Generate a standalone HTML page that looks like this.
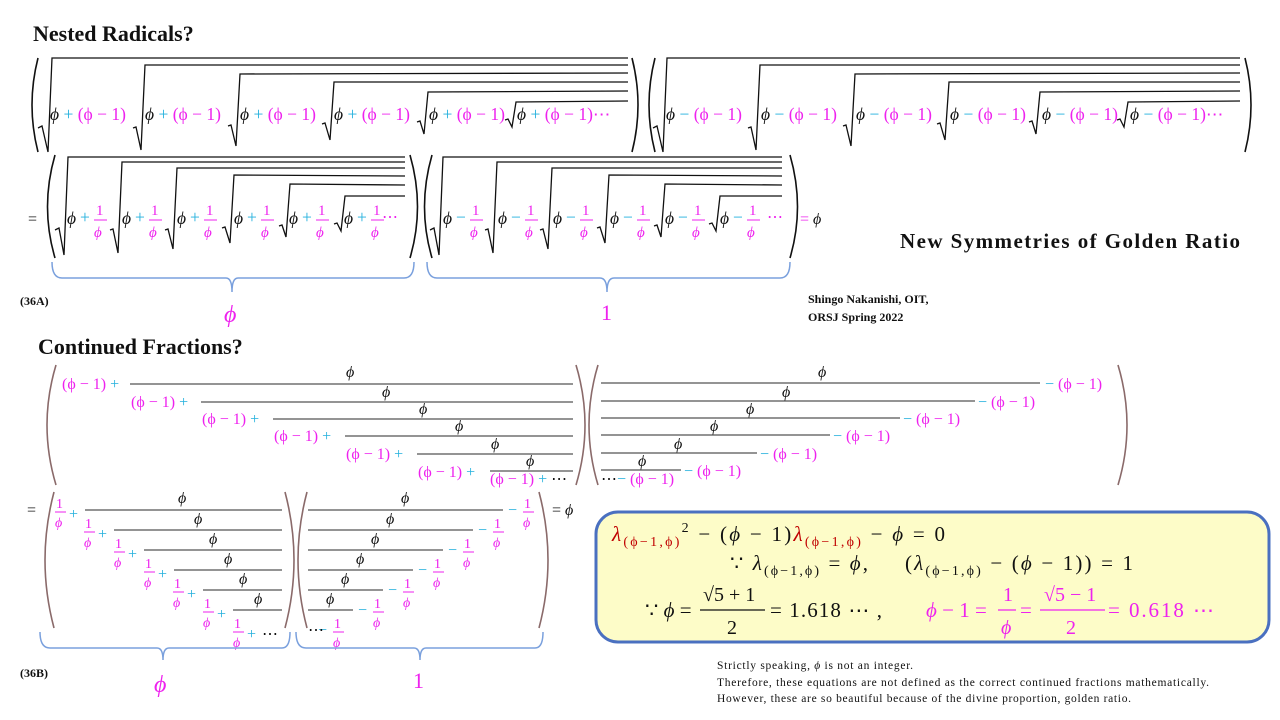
<!DOCTYPE html>
<html><head><meta charset="utf-8"><style>
html,body{margin:0;padding:0;background:#fff;}
svg{display:block;}
text{font-family:"Liberation Serif",serif;font-size:16px;}
.m{fill:#ee22ee}.c{fill:#22b0dd}.k{fill:#111}.i{font-style:italic}
.r{fill:none;stroke:#111;stroke-width:1.3}
.p{fill:none;stroke:#111;stroke-width:1.6}
.bp{fill:none;stroke:#8a6a6a;stroke-width:1.6}
.fl{stroke:#555;stroke-width:1.2}
.br{fill:none;stroke:#7aa0dd;stroke-width:1.5}
.t{font-weight:bold;fill:#111}
.big{font-size:17.5px}
</style></head><body>
<svg width="1280" height="720" viewBox="0 0 1280 720" xmlns="http://www.w3.org/2000/svg">
<text x="33" y="41" class="t" style="font-size:22px">Nested Radicals?</text>
<text x="900" y="248" class="t" style="font-size:21px" textLength="340">New Symmetries of Golden Ratio</text>
<text x="20" y="305" class="t" style="font-size:12px">(36A)</text>
<text x="808" y="303" class="t" style="font-size:12px">Shingo Nakanishi, OIT,</text>
<text x="808" y="321" class="t" style="font-size:12px">ORSJ Spring 2022</text>
<text x="38" y="354" class="t" style="font-size:22px">Continued Fractions?</text>
<text x="20" y="677" class="t" style="font-size:12px">(36B)</text>

<!-- Top row left -->
<path class="p" d="M38,58 Q26,105 38,152"/>
<path class="p" d="M632,58 Q644,105 632,152"/>
<path class="r" d="M38,128 l4,-2 l6,26 l4,-94 L628,58"/>
<path class="r" d="M133,128 l3,-1 l5,23 l4,-85 L628,65"/>
<path class="r" d="M228,126 l3,-1 l5,21 l4,-72 L628,73"/>
<path class="r" d="M322,124 l3,-1 l5,17 l4,-58 L628,82"/>
<path class="r" d="M417,122 l3,-1 l4,13 l4,-42 L628,91"/>
<path class="r" d="M505,120 l3,-1 l4,8 l4,-25 L628,101"/>
<text x="50" y="120" class="big"><tspan class="k i">ϕ</tspan><tspan class="c"> + </tspan><tspan class="m">(ϕ − 1)</tspan></text>
<text x="145" y="120" class="big"><tspan class="k i">ϕ</tspan><tspan class="c"> + </tspan><tspan class="m">(ϕ − 1)</tspan></text>
<text x="240" y="120" class="big"><tspan class="k i">ϕ</tspan><tspan class="c"> + </tspan><tspan class="m">(ϕ − 1)</tspan></text>
<text x="334" y="120" class="big"><tspan class="k i">ϕ</tspan><tspan class="c"> + </tspan><tspan class="m">(ϕ − 1)</tspan></text>
<text x="429" y="120" class="big"><tspan class="k i">ϕ</tspan><tspan class="c"> + </tspan><tspan class="m">(ϕ − 1)</tspan></text>
<text x="517" y="120" class="big"><tspan class="k i">ϕ</tspan><tspan class="c"> + </tspan><tspan class="m">(ϕ − 1)⋯</tspan></text>

<!-- Top row right -->
<path class="p" d="M655,58 Q643,105 655,152"/>
<path class="p" d="M1245,58 Q1257,105 1245,152"/>
<path class="r" d="M653,128 l4,-2 l6,26 l4,-94 L1240,58"/>
<path class="r" d="M748,128 l3,-1 l5,23 l4,-85 L1240,65"/>
<path class="r" d="M843,126 l3,-1 l5,21 l4,-72 L1240,73"/>
<path class="r" d="M937,124 l3,-1 l5,17 l4,-58 L1240,82"/>
<path class="r" d="M1029,122 l3,-1 l4,13 l4,-42 L1240,91"/>
<path class="r" d="M1117,120 l3,-1 l4,8 l4,-25 L1240,101"/>
<text x="666" y="120" class="big"><tspan class="k i">ϕ</tspan><tspan class="c"> − </tspan><tspan class="m">(ϕ − 1)</tspan></text>
<text x="761" y="120" class="big"><tspan class="k i">ϕ</tspan><tspan class="c"> − </tspan><tspan class="m">(ϕ − 1)</tspan></text>
<text x="856" y="120" class="big"><tspan class="k i">ϕ</tspan><tspan class="c"> − </tspan><tspan class="m">(ϕ − 1)</tspan></text>
<text x="950" y="120" class="big"><tspan class="k i">ϕ</tspan><tspan class="c"> − </tspan><tspan class="m">(ϕ − 1)</tspan></text>
<text x="1042" y="120" class="big"><tspan class="k i">ϕ</tspan><tspan class="c"> − </tspan><tspan class="m">(ϕ − 1)</tspan></text>
<text x="1130" y="120" class="big"><tspan class="k i">ϕ</tspan><tspan class="c"> − </tspan><tspan class="m">(ϕ − 1)⋯</tspan></text>

<!-- Row 2 -->
<text x="28" y="224" class="k">=</text>
<path class="p" d="M55,155 Q40,207 55,258"/>
<path class="p" d="M410,155 Q425,207 410,258"/>
<path class="r" d="M55,230 l4,-2 l5,27 l4,-98 L405,157"/>
<path class="r" d="M110,230 l3,-1 l5,24 l4,-91 L405,162"/>
<path class="r" d="M165,230 l3,-1 l5,20 l4,-81 L405,168"/>
<path class="r" d="M222,228 l3,-1 l5,16 l4,-68 L405,176"/>
<path class="r" d="M279,226 l3,-1 l4,12 l4,-53 L405,185"/>
<path class="r" d="M334,224 l3,-1 l4,8 l4,-35 L405,196"/>
<g id="tp">
<text x="67" y="224" class="k i big">ϕ</text><text x="80" y="223" class="c big">+</text><text x="96" y="215" class="m" style="font-size:15px">1</text><line x1="94" y1="220" x2="107" y2="220" stroke="#ee22ee"/><text x="94" y="237" class="m i" style="font-size:15px">ϕ</text>
</g>
<use href="#tp" x="55"/><use href="#tp" x="110"/><use href="#tp" x="167"/><use href="#tp" x="222"/><use href="#tp" x="277"/>
<text x="382" y="222" class="m">⋯</text>

<path class="p" d="M432,155 Q417,207 432,258"/>
<path class="p" d="M790,155 Q805,207 790,258"/>
<path class="r" d="M430,230 l4,-2 l5,27 l4,-98 L782,157"/>
<path class="r" d="M485,230 l3,-1 l5,24 l4,-91 L782,162"/>
<path class="r" d="M540,230 l3,-1 l5,20 l4,-81 L782,168"/>
<path class="r" d="M597,228 l3,-1 l5,16 l4,-68 L782,176"/>
<path class="r" d="M654,226 l3,-1 l4,12 l4,-53 L782,185"/>
<path class="r" d="M709,224 l3,-1 l4,8 l4,-35 L782,196"/>
<g id="tm">
<text x="443" y="224" class="k i big">ϕ</text><text x="456" y="223" class="c big">−</text><text x="472" y="215" class="m" style="font-size:15px">1</text><line x1="470" y1="220" x2="483" y2="220" stroke="#ee22ee"/><text x="470" y="237" class="m i" style="font-size:15px">ϕ</text>
</g>
<use href="#tm" x="55"/><use href="#tm" x="110"/><use href="#tm" x="167"/><use href="#tm" x="222"/><use href="#tm" x="277"/>
<text x="767" y="222" class="m">⋯</text>
<text x="800" y="224"><tspan class="m">= </tspan><tspan class="k i">ϕ</tspan></text>

<!-- braces top -->
<path class="br" d="M52,262 Q52,278 62,278 L226,278 Q232,278 232,292 Q232,278 238,278 L404,278 Q414,278 414,262"/>
<path class="br" d="M427,262 Q427,278 437,278 L600,278 Q607,278 607,292 Q607,278 614,278 L780,278 Q790,278 790,262"/>
<text x="224" y="322" class="m i" style="font-size:24px">ϕ</text>
<text x="601" y="320" class="m" style="font-size:22px">1</text>

<!-- CF top left -->
<path class="bp" d="M56,365 Q38,425 56,485"/>
<path class="bp" d="M576,365 Q594,425 576,485"/>
<line class="fl" x1="130" y1="384" x2="573" y2="384"/><text x="346" y="377" class="k i">ϕ</text>
<text x="62" y="389"><tspan class="m">(ϕ − 1)</tspan><tspan class="c"> +</tspan></text>
<line class="fl" x1="201" y1="402" x2="573" y2="402"/><text x="382" y="397" class="k i">ϕ</text>
<text x="131" y="407"><tspan class="m">(ϕ − 1)</tspan><tspan class="c"> +</tspan></text>
<line class="fl" x1="273" y1="419" x2="573" y2="419"/><text x="419" y="414" class="k i">ϕ</text>
<text x="202" y="424"><tspan class="m">(ϕ − 1)</tspan><tspan class="c"> +</tspan></text>
<line class="fl" x1="345" y1="436" x2="573" y2="436"/><text x="455" y="431" class="k i">ϕ</text>
<text x="274" y="441"><tspan class="m">(ϕ − 1)</tspan><tspan class="c"> +</tspan></text>
<line class="fl" x1="417" y1="454" x2="573" y2="454"/><text x="491" y="449" class="k i">ϕ</text>
<text x="346" y="459"><tspan class="m">(ϕ − 1)</tspan><tspan class="c"> +</tspan></text>
<line class="fl" x1="490" y1="471" x2="573" y2="471"/><text x="526" y="466" class="k i">ϕ</text>
<text x="418" y="477"><tspan class="m">(ϕ − 1)</tspan><tspan class="c"> +</tspan></text>
<text x="490" y="484"><tspan class="m">(ϕ − 1)</tspan><tspan class="c"> +</tspan><tspan class="k"> ⋯</tspan></text>

<!-- CF top right -->
<path class="bp" d="M598,365 Q580,425 598,485"/>
<path class="bp" d="M1118,365 Q1136,425 1118,485"/>
<line class="fl" x1="601" y1="383" x2="1040" y2="383"/><text x="818" y="377" class="k i">ϕ</text>
<text x="1045" y="389"><tspan class="c">− </tspan><tspan class="m">(ϕ − 1)</tspan></text>
<line class="fl" x1="601" y1="401" x2="975" y2="401"/><text x="782" y="397" class="k i">ϕ</text>
<text x="978" y="407"><tspan class="c">− </tspan><tspan class="m">(ϕ − 1)</tspan></text>
<line class="fl" x1="601" y1="418" x2="900" y2="418"/><text x="746" y="414" class="k i">ϕ</text>
<text x="903" y="424"><tspan class="c">− </tspan><tspan class="m">(ϕ − 1)</tspan></text>
<line class="fl" x1="601" y1="435" x2="830" y2="435"/><text x="710" y="431" class="k i">ϕ</text>
<text x="833" y="441"><tspan class="c">− </tspan><tspan class="m">(ϕ − 1)</tspan></text>
<line class="fl" x1="601" y1="453" x2="757" y2="453"/><text x="674" y="449" class="k i">ϕ</text>
<text x="760" y="459"><tspan class="c">− </tspan><tspan class="m">(ϕ − 1)</tspan></text>
<line class="fl" x1="601" y1="470" x2="681" y2="470"/><text x="638" y="466" class="k i">ϕ</text>
<text x="684" y="476"><tspan class="c">− </tspan><tspan class="m">(ϕ − 1)</tspan></text>
<text x="601" y="484"><tspan class="k">⋯</tspan><tspan class="c">− </tspan><tspan class="m">(ϕ − 1)</tspan></text>

<!-- CF bottom left -->
<text x="27" y="515" class="k">=</text>
<path class="bp" d="M54,492 Q36,560 54,628"/>
<path class="bp" d="M285,492 Q303,560 285,628"/>
<g id="fr"><text x="56" y="508" class="m" style="font-size:14px">1</text><line x1="55" y1="512" x2="66" y2="512" stroke="#ee22ee"/><text x="55" y="527" class="m i" style="font-size:14px">ϕ</text><text x="69" y="519" class="c">+</text></g>
<use href="#fr" x="29" y="20"/><use href="#fr" x="59" y="40"/><use href="#fr" x="89" y="60"/><use href="#fr" x="118" y="80"/><use href="#fr" x="148" y="100"/><use href="#fr" x="178" y="120"/>
<text x="262" y="639" class="k">⋯</text>
<line class="fl" x1="85" y1="510" x2="282" y2="510"/><text x="178" y="503" class="k i">ϕ</text>
<line class="fl" x1="114" y1="530" x2="282" y2="530"/><text x="194" y="524" class="k i">ϕ</text>
<line class="fl" x1="144" y1="550" x2="282" y2="550"/><text x="209" y="544" class="k i">ϕ</text>
<line class="fl" x1="174" y1="570" x2="282" y2="570"/><text x="224" y="564" class="k i">ϕ</text>
<line class="fl" x1="203" y1="590" x2="282" y2="590"/><text x="239" y="584" class="k i">ϕ</text>
<line class="fl" x1="233" y1="610" x2="282" y2="610"/><text x="254" y="604" class="k i">ϕ</text>

<!-- CF bottom right -->
<path class="bp" d="M307,492 Q289,560 307,628"/>
<path class="bp" d="M539,492 Q557,560 539,628"/>
<g id="mf"><text x="508" y="515" class="c">−</text><text x="524" y="508" class="m" style="font-size:14px">1</text><line x1="523" y1="512" x2="534" y2="512" stroke="#ee22ee"/><text x="523" y="527" class="m i" style="font-size:14px">ϕ</text></g>
<use href="#mf" x="-30" y="20"/><use href="#mf" x="-60" y="40"/><use href="#mf" x="-90" y="60"/><use href="#mf" x="-120" y="80"/><use href="#mf" x="-150" y="100"/><use href="#mf" x="-190" y="120"/>
<text x="308" y="635" class="k">⋯</text>
<line class="fl" x1="308" y1="510" x2="503" y2="510"/><text x="401" y="503" class="k i">ϕ</text>
<line class="fl" x1="308" y1="530" x2="473" y2="530"/><text x="386" y="524" class="k i">ϕ</text>
<line class="fl" x1="308" y1="550" x2="443" y2="550"/><text x="371" y="544" class="k i">ϕ</text>
<line class="fl" x1="308" y1="570" x2="413" y2="570"/><text x="356" y="564" class="k i">ϕ</text>
<line class="fl" x1="308" y1="590" x2="383" y2="590"/><text x="341" y="584" class="k i">ϕ</text>
<line class="fl" x1="308" y1="610" x2="353" y2="610"/><text x="326" y="604" class="k i">ϕ</text>
<text x="552" y="515" class="k">= <tspan class="i">ϕ</tspan></text>

<!-- braces bottom -->
<path class="br" d="M40,632 Q40,648 50,648 L157,648 Q163,648 163,660 Q163,648 169,648 L282,648 Q290,648 290,632"/>
<path class="br" d="M296,632 Q296,648 306,648 L414,648 Q420,648 420,660 Q420,648 426,648 L535,648 Q543,648 543,632"/>
<text x="154" y="692" class="m i" style="font-size:24px">ϕ</text>
<text x="413" y="688" class="m" style="font-size:22px">1</text>

<!-- box -->
<rect x="596" y="512" width="673" height="130" rx="22" fill="#fdfcc8" stroke="#4a70c0" stroke-width="3"/>
<text x="612" y="541" style="font-size:21px" textLength="333"><tspan fill="#c00000" class="i">λ</tspan><tspan fill="#c00000" style="font-size:14px" dy="5">(ϕ−1,ϕ)</tspan><tspan class="k" style="font-size:14px" dy="-14">2</tspan><tspan class="k" dy="9"> − (</tspan><tspan class="k i">ϕ</tspan><tspan class="k"> − 1)</tspan><tspan fill="#c00000" class="i">λ</tspan><tspan fill="#c00000" style="font-size:14px" dy="5">(ϕ−1,ϕ)</tspan><tspan class="k" dy="-5"> − </tspan><tspan class="k i">ϕ</tspan><tspan class="k"> = 0</tspan></text>
<text x="730" y="570" style="font-size:21px" class="k" textLength="138">∵ <tspan class="i">λ</tspan><tspan style="font-size:14px" dy="5">(ϕ−1,ϕ)</tspan><tspan dy="-5"> = </tspan><tspan class="i">ϕ</tspan>,</text>
<text x="905" y="570" style="font-size:21px" class="k" textLength="228">(<tspan class="i">λ</tspan><tspan style="font-size:14px" dy="5">(ϕ−1,ϕ)</tspan><tspan dy="-5"> − (</tspan><tspan class="i">ϕ</tspan> − 1)) = 1</text>
<text x="645" y="617" style="font-size:21px" class="k">∵ <tspan class="i">ϕ</tspan> =</text>
<text x="703" y="601" style="font-size:20px" class="k">√5 + 1</text>
<line x1="700" y1="610" x2="765" y2="610" stroke="#111" stroke-width="1.2"/>
<text x="727" y="634" style="font-size:20px" class="k">2</text>
<text x="770" y="617" style="font-size:21px" class="k" textLength="112">= 1.618 ⋯ ,</text>
<text x="926" y="617" style="font-size:21px" class="m"><tspan class="i">ϕ</tspan> − 1 =</text>
<text x="1003" y="601" style="font-size:20px" class="m">1</text>
<line x1="998" y1="610" x2="1016" y2="610" stroke="#ee22ee" stroke-width="1.2"/>
<text x="1001" y="634" style="font-size:20px" class="m i">ϕ</text>
<text x="1020" y="617" style="font-size:21px" class="m">=</text>
<text x="1044" y="601" style="font-size:20px" class="m">√5 − 1</text>
<line x1="1040" y1="610" x2="1105" y2="610" stroke="#ee22ee" stroke-width="1.2"/>
<text x="1066" y="634" style="font-size:20px" class="m">2</text>
<text x="1108" y="617" style="font-size:21px" class="m" textLength="106">= 0.618 ⋯</text>
<text x="717" y="669" style="font-size:11.5px" class="k" textLength="196">Strictly speaking, <tspan class="i">ϕ</tspan> is not an integer.</text>
<text x="717" y="686" style="font-size:11.5px" class="k" textLength="492">Therefore, these equations are not defined as the correct continued fractions mathematically.</text>
<text x="717" y="702" style="font-size:11.5px" class="k" textLength="414">However, these are so beautiful because of the divine proportion, golden ratio.</text>
</svg>
</body></html>
